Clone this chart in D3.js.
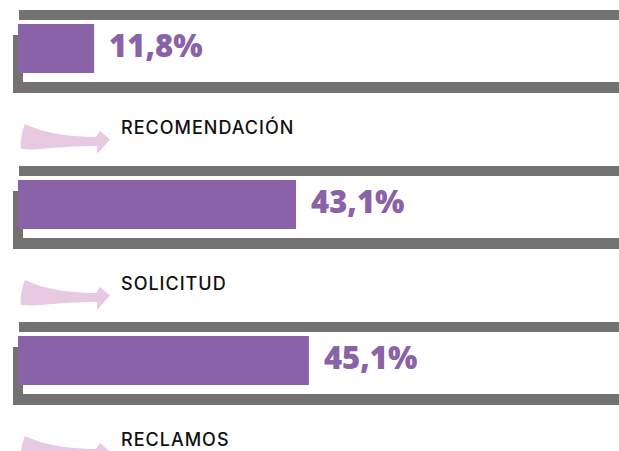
<!DOCTYPE html>
<html><head><meta charset="utf-8">
<script src="https://cdn.jsdelivr.net/npm/d3@7/dist/d3.min.js"></script>
<style>html,body{margin:0;padding:0;background:#fff;overflow:hidden}</style>
</head><body>
<svg id="chart" width="619" height="451"></svg>
<script>
const categories = ["RECOMENDACIÓN", "SOLICITUD", "RECLAMOS"];
const values = [11.8, 43.1, 45.1];
const valueLabels = ["11,8%", "43,1%", "45,1%"];

const W = 619, H = 451;
const svg = d3.select("#chart");
const purple = "#8a62a8", gray = "#737172", pink = "#e8c9e2";

const x = d3.scaleLinear().domain([0, 100]).range([18, 663]);
const y = d3.scaleBand().domain(categories).range([10, 10 + 3 * 156]).paddingInner(0).paddingOuter(0);

const arrowPath = "M25,1 C35,6 50,10 65,12 C78,13.5 88,14 96,14 L100,8 L110,16.5 L97,31 L97,23 C80,23 60,24 42,26 C35,26.5 28,26.5 21,26 C20,18 22,8 25,1 Z";

const rows = svg.selectAll("g.row").data(categories).join("g")
  .attr("class", "row")
  .attr("transform", d => `translate(0,${y(d)})`);

rows.append("rect").attr("x", 19).attr("y", 0).attr("width", W - 19).attr("height", 10).attr("fill", gray);
rows.append("rect").attr("x", 13).attr("y", 72).attr("width", W - 13).attr("height", 11).attr("fill", gray);
rows.append("rect").attr("x", 13).attr("y", 25).attr("width", 10).attr("height", 58).attr("fill", gray);
rows.append("rect").attr("x", x(0)).attr("y", 14)
  .attr("width", (d, i) => x(values[i]) - x(0)).attr("height", 49).attr("fill", purple);
rows.append("text").attr("x", (d, i) => x(values[i]) + 15).attr("y", 47)
  .attr("font-family", "Open Sans").attr("font-weight", 800).attr("font-size", 31)
  .attr("fill", purple).text((d, i) => valueLabels[i]);
rows.append("path").attr("d", arrowPath).attr("transform", "translate(0,113)").attr("fill", pink);
rows.append("text").attr("x", 121).attr("y", 124)
  .attr("font-family", "Inter").attr("font-weight", 500).attr("font-size", 18)
  .attr("letter-spacing", "1px")
  .attr("fill", "#111").text(d => d);
</script>
</body></html>
